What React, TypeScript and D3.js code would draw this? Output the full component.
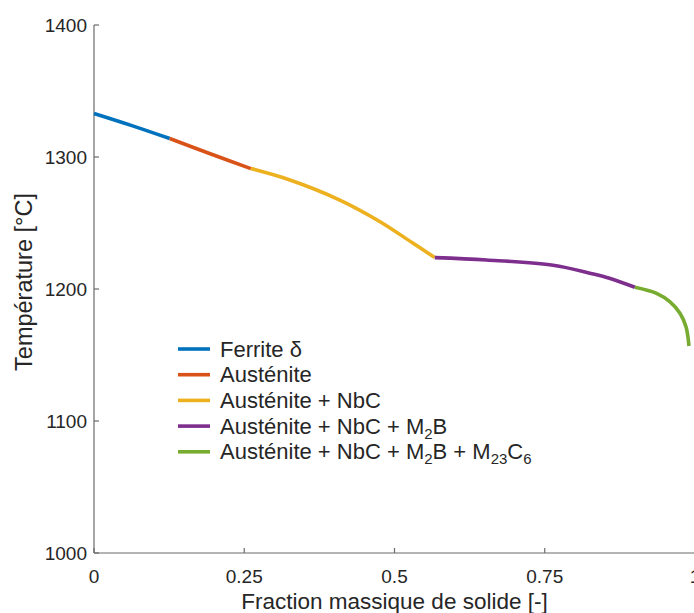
import React from "react";
import * as d3 from "d3";

const ferriteX = [0, 0.063, 0.126];
const ferriteT = [1333, 1323.8, 1314];
const austX = [0.126, 0.19, 0.261];
const austT = [1314, 1303, 1291.2];
const nbcX = [0.261, 0.326, 0.409, 0.476, 0.531, 0.567];
const nbcT = [1291.2, 1282.6, 1267.4, 1251, 1234.6, 1223.8];
const m2bX = [0.567, 0.653, 0.764, 0.825, 0.859, 0.9];
const m2bT = [1223.8, 1222, 1218, 1212, 1208, 1201.3];
const m23X = [0.9, 0.936, 0.958, 0.975, 0.985, 0.99];
const m23T = [1201.3, 1196.7, 1190.4, 1181.6, 1171.4, 1156.8];

const xTicks = [0, 0.25, 0.5, 0.75, 1];
const xTickLabels = ["0", "0.25", "0.5", "0.75", "1"];
const yTicks = [1000, 1100, 1200, 1300, 1400];
const yTickLabels = ["1000", "1100", "1200", "1300", "1400"];

const colors = ["#0072BD", "#D95319", "#EDB120", "#7E2F8E", "#77AC30"];

type Part = { t: string; sub?: boolean };
const legendLabels: Part[][] = [
  [{ t: "Ferrite δ" }],
  [{ t: "Austénite" }],
  [{ t: "Austénite + NbC" }],
  [{ t: "Austénite + NbC + M" }, { t: "2", sub: true }, { t: "B" }],
  [
    { t: "Austénite + NbC + M" },
    { t: "2", sub: true },
    { t: "B + M" },
    { t: "23", sub: true },
    { t: "C" },
    { t: "6", sub: true },
  ],
];

const seriesX = [ferriteX, austX, nbcX, m2bX, m23X];
const seriesT = [ferriteT, austT, nbcT, m2bT, m23T];

export default function App() {
  const W = 694;
  const H = 613;
  const x = d3.scaleLinear().domain([0, 1]).range([94, 695]);
  const y = d3.scaleLinear().domain([1000, 1400]).range([553, 25]);
  const line = d3
    .line<[number, number]>()
    .x((d) => x(d[0]))
    .y((d) => y(d[1]))
    .curve(d3.curveCatmullRom.alpha(0.5));

  const axisColor = "#6b6b6b";
  const textColor = "#262626";
  const font = "'Liberation Sans', Arial, sans-serif";

  const legX = 178;
  const legY0 = 349;
  const legDy = 25.7;

  return (
    <svg
      width={W}
      height={H}
      style={{ position: "absolute", left: 0, top: 0, background: "#fff" }}
      fontFamily={font}
    >
      <rect x={0} y={0} width={W} height={H} fill="#fff" />
      <line x1={x(0)} x2={x(0)} y1={y(1000)} y2={y(1400)} stroke={axisColor} strokeWidth={1.2} />
      <line x1={x(0)} x2={x(1)} y1={y(1000)} y2={y(1000)} stroke={axisColor} strokeWidth={1.2} />
      {yTicks.map((v, i) => (
        <g key={"y" + v}>
          <line x1={x(0)} x2={x(0) + 5} y1={y(v)} y2={y(v)} stroke={axisColor} strokeWidth={1.2} />
          <text x={87} y={y(v)} dy="0.36em" textAnchor="end" fontSize={19} fill={textColor}>
            {yTickLabels[i]}
          </text>
        </g>
      ))}
      {xTicks.map((v, i) => (
        <g key={"x" + v}>
          <line x1={x(v)} x2={x(v)} y1={y(1000)} y2={y(1000) - 5} stroke={axisColor} strokeWidth={1.2} />
          <text x={x(v)} y={583} textAnchor="middle" fontSize={19} fill={textColor}>
            {xTickLabels[i]}
          </text>
        </g>
      ))}
      <text x={x(0.5)} y={609} textAnchor="middle" fontSize={22.5} fill={textColor}>
        Fraction massique de solide [-]
      </text>
      <text
        transform={`translate(32, 282) rotate(-90)`}
        textAnchor="middle"
        fontSize={23.5}
        fill={textColor}
      >
        Température [°C]
      </text>

      {seriesX.map((xs, i) => {
        const pts = xs.map((v, j) => [v, seriesT[i][j]] as [number, number]);
        return (
          <path
            key={"s" + i}
            d={line(pts) || ""}
            fill="none"
            stroke={colors[i]}
            strokeWidth={3.6}
            strokeLinecap="butt"
          />
        );
      })}

      {legendLabels.map((parts, i) => {
        const ly = legY0 + i * legDy;
        return (
          <g key={"l" + i}>
            <line x1={legX} x2={legX + 32} y1={ly} y2={ly} stroke={colors[i]} strokeWidth={3.6} />
            <text x={legX + 42} y={ly + 7.5} fontSize={22} fill={textColor}>
              {parts.map((p, k) =>
                p.sub ? (
                  <tspan key={k} fontSize={15} dy={5}>
                    {p.t}
                  </tspan>
                ) : (
                  <tspan key={k} dy={k > 0 && parts[k - 1].sub ? -5 : 0}>
                    {p.t}
                  </tspan>
                )
              )}
            </text>
          </g>
        );
      })}
    </svg>
  );
}
